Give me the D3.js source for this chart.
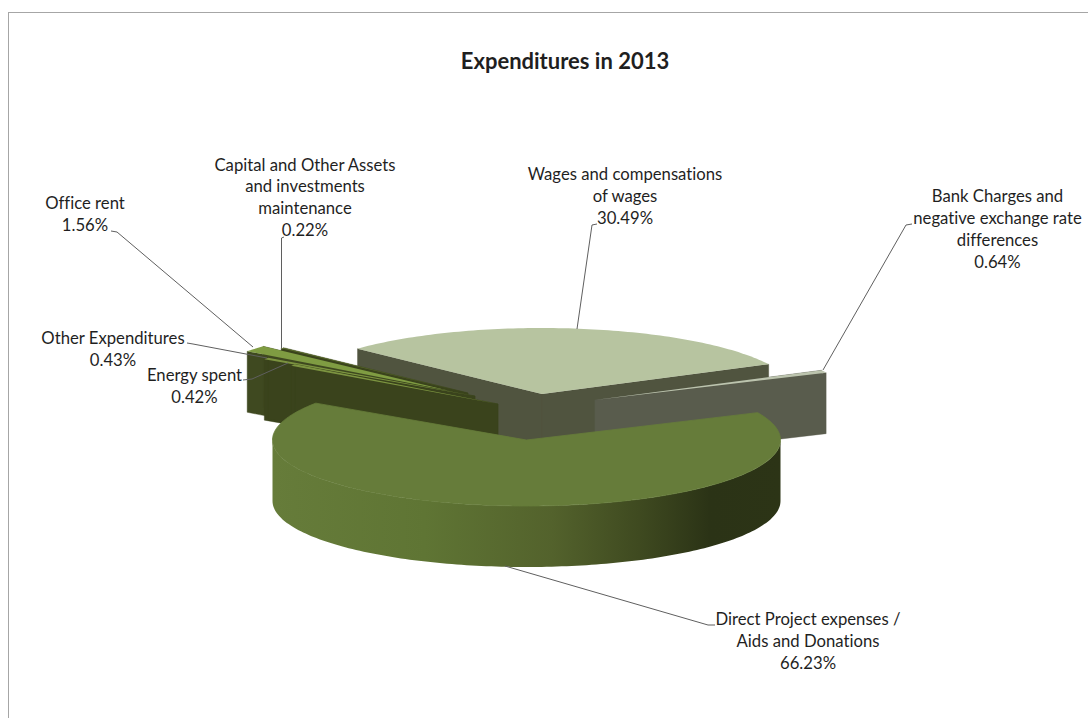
<!DOCTYPE html>
<html><head><meta charset="utf-8">
<script src="https://cdn.jsdelivr.net/npm/d3@7/dist/d3.min.js"></script>
<style>html,body{margin:0;padding:0;background:#fff}svg{display:block}text{font-family:Lato,"Open Sans",sans-serif;fill:#1f1f1f;font-variant-ligatures:none}</style>
</head><body><svg id="c" width="1088" height="718"></svg>
<script>
// ---- data ----
const categories = ["Direct Project expenses / Aids and Donations","Other Expenditures","Energy spent","Office rent","Capital and Other Assets and investments maintenance","Wages and compensations of wages","Bank Charges and negative exchange rate differences"];
const shares = [66.23,0.43,0.42,1.56,0.22,30.49,0.64];
const labelLines = [
 ["Direct Project expenses /","Aids and Donations","66.23%"],
 ["Other Expenditures","0.43%"],
 ["Energy spent","0.42%"],
 ["Office rent","1.56%"],
 ["Capital and Other Assets","and investments","maintenance","0.22%"],
 ["Wages and compensations","of wages","30.49%"],
 ["Bank Charges and","negative exchange rate","differences","0.64%"]];
// ---- layout ----
const W=1088,H=718;
const rx=254, ry=66, depth=61;
const firstAngle=65.5*Math.PI/180;
const centres=[[526.5,440],[475,396],[498,404],[450,391],[468,393],[542,394],[595,400]];
const topFill=["#667c3a","#7c9440","#7c9440","#7f9c42","#5a6b2c","#b7c4a0","#bcc4ae"];
const wallFill=["#667c3a","#3a431c","#3a431c","#3f4920","#3a431c","#50543f","#595c4d"];
const paintOrder=[5,4,3,1,2,6,0];
const labelPos=[[808,625],[113,344],[194.5,381],[85,209],[305,170.5],[625,180],[997.5,202]];
const leaders=[[[715,625],[708,625],[505,566]],[[187,343],[193,344],[267,358]],[[243,380],[252,379],[288,363]],[[111,231],[117,232],[253,347]],[[284,237],[281.5,238],[281.5,348]],[[597,224],[592,225],[577,329]],[[912,224],[906,225],[823,370]]];

const svg=d3.select("#c");
const scaleX=d3.scaleLinear().domain([-1,1]).range([-rx,rx]);
const scaleY=d3.scaleLinear().domain([-1,1]).range([-ry,ry]);
const pie=d3.pie().sort(null).startAngle(firstAngle).endAngle(firstAngle+2*Math.PI);
const arcs=pie(shares);
const line=d3.line();
const pt=(c,a,dz=0)=>[c[0]+scaleX(Math.sin(a)),c[1]-scaleY(Math.cos(a))+dz];

const defs=svg.append("defs");
const g=defs.append("linearGradient").attr("id","side").attr("gradientUnits","userSpaceOnUse")
 .attr("x1",272).attr("x2",781).attr("y1",0).attr("y2",0);
[[0,"#667c3a"],[0.3,"#5f7534"],[0.55,"#53622c"],[0.72,"#3f4a20"],[0.86,"#2b3316"],[1,"#2c3416"]]
 .forEach(s=>g.append("stop").attr("offset",s[0]).attr("stop-color",s[1]));

svg.append("rect").attr("x",8.5).attr("y",12.5).attr("width",W+20).attr("height",H+20).attr("fill","#fff").attr("stroke","#a6a6a6").attr("stroke-width",1);

function sample(a0,a1){const n=Math.max(2,Math.ceil((a1-a0)/0.02));return d3.range(n+1).map(i=>a0+(a1-a0)*i/n);}
const HALF=Math.PI/2;
paintOrder.forEach(i=>{
 const d=arcs[i],c=centres[i],as=sample(d.startAngle,d.endAngle);
 const G=svg.append("g");
 const wf=wallFill[i];
 // radial walls (only those facing the viewer show; the top face hides the rest)
 if(i!==0)[d.startAngle,d.endAngle].forEach(a=>{
  G.append("path").attr("d",line([c,pt(c,a),pt(c,a,depth),[c[0],c[1]+depth]])+"Z").attr("fill",wf).attr("stroke",wf).attr("stroke-width",.4);
 });
 // outer wall: front half of the rim only
 const a0=Math.max(d.startAngle,HALF),a1=Math.min(d.endAngle,3*HALF);
 if(a1>a0){
  const vis=sample(a0,a1);
  const outer=vis.map(a=>pt(c,a)).concat(vis.slice().reverse().map(a=>pt(c,a,depth)));
  G.append("path").attr("d",line(outer)+"Z").attr("fill",i===0?"url(#side)":wf);
 }
 // top face
 const top=[c].concat(as.map(a=>pt(c,a)));
 G.append("path").attr("d",line(top)+"Z").attr("fill",topFill[i]).attr("stroke",i===0?topFill[i]:"none").attr("stroke-width",.8);
});

// title
svg.append("text").attr("x",565).attr("y",69).attr("text-anchor","middle").attr("font-size",22).attr("font-weight",700).text("Expenditures in 2013");

// leaders
svg.append("g").selectAll("path").data(leaders).join("path").attr("d",d=>line(d)).attr("fill","none").attr("stroke","#5f5f5f").attr("stroke-width",1);

// labels
labelLines.forEach((ls,i)=>{
 const t=svg.append("text").attr("x",labelPos[i][0]).attr("y",labelPos[i][1]).attr("text-anchor","middle").attr("font-size",16.7);
 ls.forEach((l,k)=>t.append("tspan").attr("x",labelPos[i][0]).attr("dy",k?21.9:0).text(l));
});
</script></body></html>
